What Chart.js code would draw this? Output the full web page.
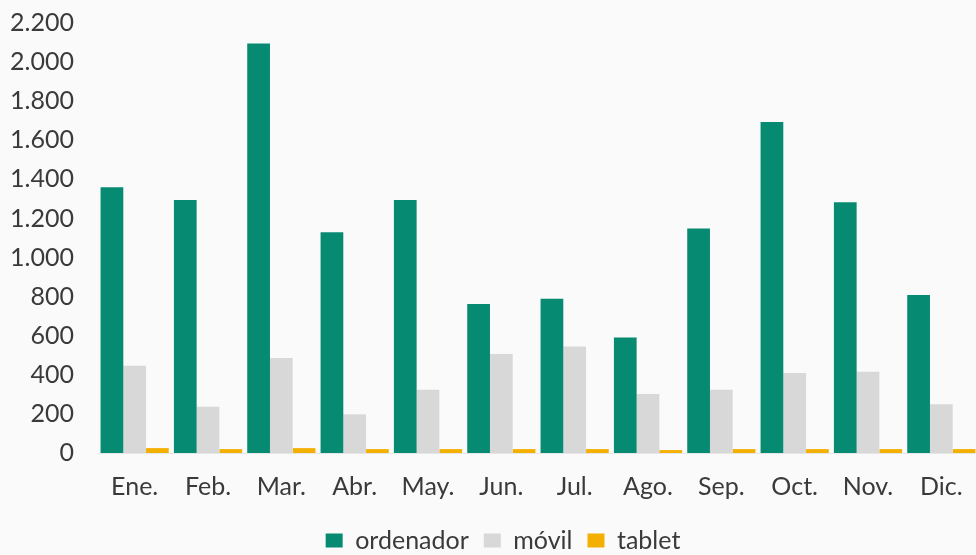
<!DOCTYPE html>
<html>
<head>
<meta charset="utf-8">
<script src="https://cdn.jsdelivr.net/npm/chart.js@4/dist/chart.umd.min.js"></script>
<style>
  html, body { margin: 0; padding: 0; background: #fafafa; overflow: hidden; }
  #wrap { width: 980px; height: 555px; position: relative; }
</style>
</head>
<body>
<div id="wrap"><canvas id="c"></canvas></div>
<script>
const categories = ["Ene.", "Feb.", "Mar.", "Abr.", "May.", "Jun.", "Jul.", "Ago.", "Sep.", "Oct.", "Nov.", "Dic."];
const ordenador = [1360, 1295, 2095, 1130, 1295, 762, 789, 591, 1149, 1694, 1283, 808];
const movil = [446, 237, 486, 198, 324, 506, 545, 302, 324, 409, 416, 250];
const tablet = [25, 20, 25, 20, 20, 20, 20, 15, 20, 20, 20, 20];
const yTicks = [0, 200, 400, 600, 800, 1000, 1200, 1400, 1600, 1800, 2000, 2200];

function fmt(v) {
  return String(v).replace(/\B(?=(\d{3})+(?!\d))/g, ".");
}

const FONT = "Lato, 'Open Sans', sans-serif";
const TXT = "#3a3a3a";

const shiftLegend = {
  id: "shiftLegend",
  afterLayout(chart) {
    if (chart.legend) { chart.legend.left += 14; chart.legend.right += 14; }
  }
};

new Chart(document.getElementById("c"), {
  type: "bar",
  data: {
    labels: categories,
    datasets: [
      { label: "ordenador", data: ordenador, backgroundColor: "#078a72" },
      { label: "móvil", data: movil, backgroundColor: "#d9d8d9" },
      { label: "tablet", data: tablet, backgroundColor: "#f4b000" }
    ]
  },
  plugins: [shiftLegend],
  options: {
    responsive: true,
    maintainAspectRatio: false,
    animation: false,
    layout: { padding: { top: 23, left: 0, right: 2, bottom: -8 } },
    datasets: { bar: { categoryPercentage: 0.93, barPercentage: 1.0 } },
    plugins: {
      tooltip: { enabled: false },
      legend: {
        position: "bottom",
        labels: {
          color: TXT,
          font: { family: FONT, size: 25 },
          boxWidth: 17,
          boxHeight: 14,
          padding: 15
        }
      }
    },
    scales: {
      x: {
        grid: { display: false },
        border: { display: true, color: "#e6e6e6", width: 1 },
        ticks: {
          color: TXT,
          font: { family: FONT, size: 25 },
          padding: 11,
          maxRotation: 0
        }
      },
      y: {
        min: 0,
        max: 2200,
        afterBuildTicks: (scale) => { scale.ticks = yTicks.map(v => ({ value: v })); },
        afterFit: (scale) => { scale.width = 98; scale.paddingTop = 0; scale.paddingBottom = 0; },
        grid: { display: false },
        border: { display: false },
        ticks: {
          color: TXT,
          font: { family: FONT, size: 25 },
          padding: 16,
          callback: (v) => fmt(v)
        }
      }
    }
  }
});
</script>
</body>
</html>
